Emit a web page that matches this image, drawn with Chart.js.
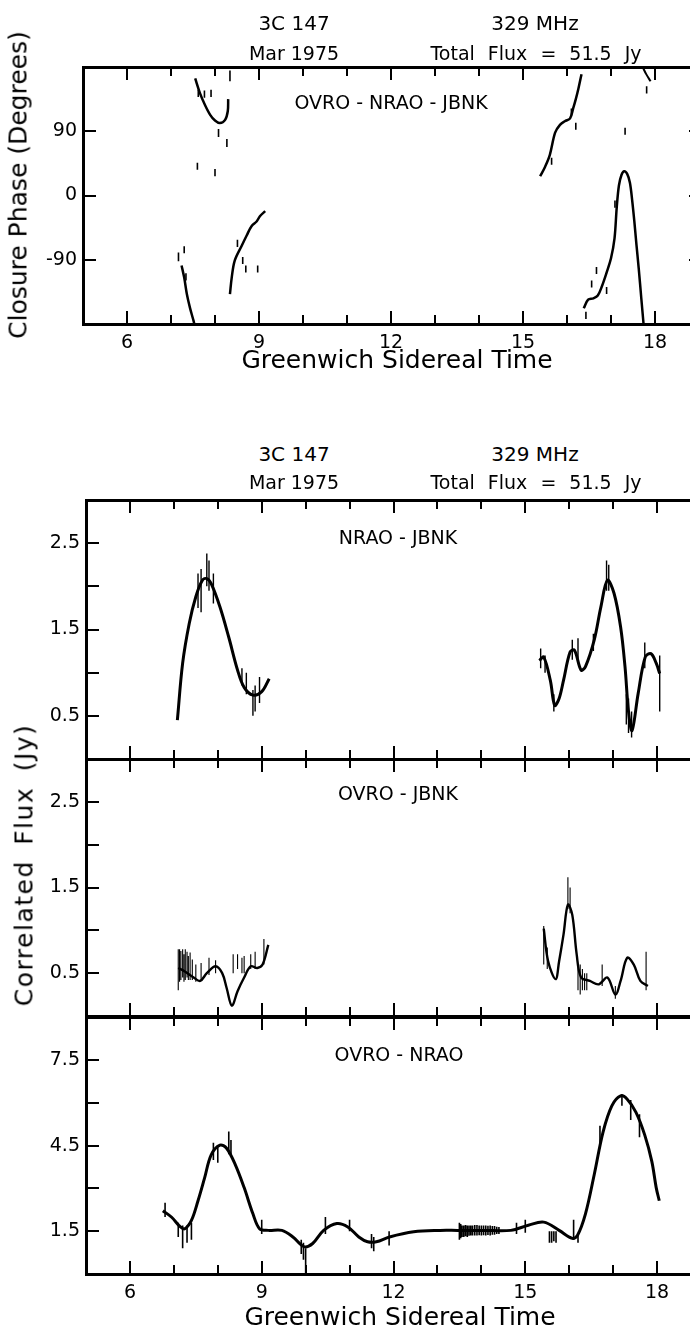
<!DOCTYPE html>
<html>
<head>
<meta charset="utf-8">
<script src="https://cdn.jsdelivr.net/npm/chart.js@4"></script>
<style>
  html, body { margin:0; padding:0; background:#fff; }
  body { width:690px; height:1327px; overflow:hidden; position:relative; font-family:"DejaVu Sans", sans-serif; color:#000; }
  canvas { position:absolute; left:0; }
  .t { position:absolute; white-space:nowrap; line-height:1; transform:translate(-50%,-50%); }
  .r { transform:translate(-50%,-50%) rotate(-90deg); }
</style>
</head>
<body>
<canvas id="c0" style="top:0px" width="720" height="360"></canvas>
<canvas id="c1" style="top:480px" width="720" height="300"></canvas>
<canvas id="c2" style="top:740px" width="720" height="300"></canvas>
<canvas id="c3" style="top:1000px" width="720" height="327"></canvas>

<div class="t" style="left:294px;top:23px;font-size:20px">3C 147</div>
<div class="t" style="left:294px;top:53px;font-size:19px">Mar 1975</div>
<div class="t" style="left:535px;top:23px;font-size:20px">329 MHz</div>
<div class="t" style="left:536px;top:53px;font-size:19px;word-spacing:7px">Total Flux = 51.5 Jy</div>
<div class="t" style="left:391px;top:102px;font-size:19px">OVRO - NRAO - JBNK</div>
<div class="t r" style="left:18px;top:185px;font-size:25px">Closure Phase (Degrees)</div>
<div class="t" style="left:397px;top:359px;font-size:25px">Greenwich Sidereal Time</div>

<div class="t" style="left:294px;top:454px;font-size:20px">3C 147</div>
<div class="t" style="left:294px;top:482px;font-size:19px">Mar 1975</div>
<div class="t" style="left:535px;top:454px;font-size:20px">329 MHz</div>
<div class="t" style="left:536px;top:482px;font-size:19px;word-spacing:7px">Total Flux = 51.5 Jy</div>
<div class="t" style="left:398px;top:537px;font-size:19px">NRAO - JBNK</div>
<div class="t" style="left:398px;top:793px;font-size:19px">OVRO - JBNK</div>
<div class="t" style="left:399px;top:1054px;font-size:19px">OVRO - NRAO</div>
<div class="t r" style="left:24px;top:865px;font-size:25px;word-spacing:6px;letter-spacing:1.5px">Correlated Flux (Jy)</div>
<div class="t" style="left:400px;top:1316px;font-size:25px">Greenwich Sidereal Time</div>

<script>
// ---------- Closure phase (degrees) vs GST ----------
const phaseA_gst = [7.55, 7.66, 7.77, 7.89, 8.0, 8.11, 8.23, 8.29, 8.30];
const phaseA_deg = [164, 143, 127, 113, 105, 101.5, 106, 118, 135];
const phaseB_gst = [7.24, 7.30, 7.36, 7.43, 7.51, 7.53];
const phaseB_deg = [-98, -115, -138, -157, -175, -180];
const phaseC_gst = [8.34, 8.38, 8.45, 8.61, 8.72, 8.83, 8.95, 9.02, 9.14];
const phaseC_deg = [-138, -115, -91, -70, -56, -43, -36, -29, -22];
const phaseD_gst = [15.39, 15.5, 15.61, 15.73, 15.84, 15.95, 16.07, 16.14, 16.2, 16.26, 16.33];
const phaseD_deg = [27, 40, 57, 88, 99, 104, 108, 122, 135, 150, 170];
const phaseE_gst = [16.38, 16.48, 16.6, 16.7, 16.8, 16.9, 17.0, 17.08, 17.13, 17.18, 17.24, 17.3, 17.37, 17.43, 17.48, 17.53, 17.58, 17.63, 17.69, 17.74];
const phaseE_deg = [-158, -146, -144, -140, -126, -108, -88, -60, -17, 14, 29, 34, 30, 18, -6, -36, -70, -102, -145, -180];
const phaseF_gst = [17.72, 17.8, 17.9];
const phaseF_deg = [180, 170, 160];
// isolated phase points: [gst, low, high]
const phaseDots = [[7.62,138,148],[7.76,137,147],[7.91,138,148],[8.34,160,175],[8.08,82,93],[8.27,68,79],
  [7.60,36,46],[8.0,27,37],[7.17,-92,-80],[7.30,-81,-71],[7.34,-119,-109],[8.51,-72,-62],[8.63,-96,-86],
  [8.70,-108,-98],[8.97,-108,-98],[16.2,92,102],[17.32,85,95],[17.81,143,153],[16.43,-173,-163],
  [16.67,-110,-100],[16.56,-129,-119],[16.9,-138,-128],[17.09,-17,-7],[15.65,43,53],[16.1,112,122]];

// ---------- NRAO - JBNK correlated flux (Jy) ----------
const nj1_gst = [7.08, 7.2, 7.35, 7.5, 7.65, 7.75, 7.85, 8.05, 8.25, 8.45, 8.6, 8.8, 9.0, 9.17];
const nj1_flux = [0.45, 1.11, 1.57, 1.88, 2.07, 2.09, 2.03, 1.76, 1.41, 1.03, 0.83, 0.74, 0.78, 0.93];
const nj2_gst = [15.32, 15.42, 15.57, 15.67, 15.77, 15.87, 16.02, 16.12, 16.27, 16.37, 16.57, 16.72, 16.87, 17.02, 17.17, 17.27, 17.35, 17.43, 17.57, 17.73, 17.86, 17.98, 18.06];
const nj2_flux = [1.14, 1.18, 0.91, 0.62, 0.7, 0.91, 1.24, 1.26, 1.03, 1.07, 1.38, 1.76, 2.07, 1.92, 1.53, 1.07, 0.55, 0.33, 0.76, 1.18, 1.22, 1.11, 0.99];
const njNoise = [[7.55,1.75,2.15],[7.62,1.7,2.2],[7.75,2.0,2.38],[7.8,1.95,2.3],[7.9,1.8,2.15],[8.55,0.85,1.05],
  [8.65,0.75,1.0],[8.8,0.5,0.8],[8.85,0.55,0.85],[8.95,0.65,0.95],[15.35,1.05,1.28],[15.45,1.0,1.2],
  [15.65,0.55,0.75],[16.07,1.15,1.38],[16.2,1.15,1.4],[16.55,1.25,1.45],[16.85,1.95,2.3],[16.9,1.95,2.25],
  [17.3,0.4,0.75],[17.35,0.3,0.7],[17.42,0.25,0.55],[17.72,1.05,1.35],[18.06,0.55,1.2]];

// ---------- OVRO - JBNK ----------
const oj1_gst = [7.1, 7.25, 7.45, 7.6, 7.75, 7.95, 8.1, 8.2, 8.32, 8.45, 8.6, 8.75, 8.9, 9.02, 9.15];
const oj1_flux = [0.56, 0.52, 0.45, 0.41, 0.5, 0.58, 0.5, 0.33, 0.12, 0.29, 0.45, 0.58, 0.56, 0.6, 0.83];
const oj2_gst = [15.42, 15.52, 15.69, 15.77, 15.87, 15.97, 16.07, 16.17, 16.27, 16.47, 16.67, 16.87, 17.05, 17.17, 17.32, 17.47, 17.62, 17.79];
const oj2_flux = [1.02, 0.64, 0.43, 0.64, 0.95, 1.3, 1.18, 0.72, 0.45, 0.41, 0.37, 0.45, 0.25, 0.41, 0.68, 0.6, 0.41, 0.35];
const ojNoise = [[7.1,0.3,0.78],[7.13,0.4,0.78],[7.16,0.42,0.76],[7.2,0.45,0.78],[7.23,0.4,0.72],[7.26,0.42,0.78],
  [7.3,0.45,0.75],[7.33,0.42,0.7],[7.37,0.42,0.74],[7.42,0.42,0.66],[7.5,0.4,0.6],[7.62,0.42,0.62],
  [7.8,0.48,0.68],[7.95,0.5,0.65],[8.35,0.5,0.72],[8.45,0.55,0.72],[8.55,0.5,0.68],[8.6,0.5,0.7],
  [8.75,0.55,0.72],[8.85,0.55,0.75],[9.05,0.6,0.9],[15.42,0.6,1.05],[15.5,0.55,0.8],[15.97,1.25,1.62],
  [16.02,1.2,1.5],[16.2,0.3,0.6],[16.25,0.25,0.6],[16.3,0.3,0.55],[16.35,0.3,0.5],[16.4,0.3,0.5],
  [16.75,0.35,0.6],[17.05,0.2,0.35],[17.75,0.3,0.75]];

// ---------- OVRO - NRAO ----------
const on_gst = [6.75, 6.95, 7.15, 7.25, 7.4, 7.55, 7.7, 7.85, 8.05, 8.2, 8.4, 8.6, 8.8, 8.95, 9.15, 9.46, 9.71, 9.96, 10.16, 10.41, 10.71, 10.96, 11.21, 11.41, 11.61, 11.91, 12.46, 13.06, 13.46, 14.07, 14.67, 15.07, 15.42, 15.77, 16.07, 16.19, 16.37, 16.57, 16.77, 16.97, 17.17, 17.32, 17.52, 17.72, 17.88, 17.98, 18.05];
const on_flux = [2.22, 1.99, 1.65, 1.59, 1.88, 2.57, 3.37, 4.18, 4.52, 4.41, 3.83, 3.03, 2.11, 1.59, 1.53, 1.53, 1.3, 0.96, 1.07, 1.53, 1.77, 1.65, 1.3, 1.13, 1.13, 1.3, 1.48, 1.53, 1.53, 1.53, 1.53, 1.71, 1.82, 1.53, 1.25, 1.36, 2.11, 3.49, 4.98, 5.9, 6.25, 6.13, 5.67, 4.87, 3.95, 3.03, 2.57];
const onNoise = [[6.8,2.0,2.5],[7.1,1.3,1.8],[7.2,0.9,1.7],[7.3,1.1,1.7],[7.4,1.2,1.8],[7.9,4.0,4.6],[8.0,3.9,4.5],
  [8.25,4.2,5.0],[8.3,4.1,4.7],[9.0,1.4,1.9],[9.9,0.7,1.2],[9.95,0.5,1.1],[10.0,0.0,0.9],[10.45,1.4,2.0],
  [11.0,1.5,1.9],[11.5,0.9,1.4],[11.55,0.8,1.3],[11.9,1.0,1.5],[13.5,1.2,1.8],[13.53,1.25,1.75],[13.56,1.3,1.7],
  [13.6,1.3,1.7],[13.64,1.32,1.72],[13.68,1.3,1.7],[13.72,1.34,1.7],[13.76,1.35,1.7],[13.8,1.35,1.7],
  [13.85,1.35,1.72],[13.9,1.35,1.72],[13.95,1.36,1.7],[14.0,1.35,1.7],[14.05,1.36,1.7],[14.1,1.35,1.7],
  [14.15,1.37,1.69],[14.2,1.35,1.7],[14.25,1.38,1.68],[14.3,1.38,1.68],[14.35,1.4,1.66],[14.4,1.4,1.65],
  [14.8,1.4,1.8],[15.0,1.45,1.9],[15.55,1.1,1.5],[15.6,1.1,1.5],[15.65,1.15,1.5],[15.7,1.1,1.5],
  [16.1,1.2,1.9],[16.2,1.1,1.4],[16.7,4.5,5.2],[17.2,5.9,6.3],[17.4,5.4,6.1],[17.6,4.8,5.6]];

// ---------- axis settings ----------
const gstMin = 5, gstMax = 19, gstStep = 1, gstLabels = [6, 9, 12, 15, 18];
const phaseTicks = [-90, 0, 90];
const fluxTicksA = [0.5, 1.5, 2.5];
const fluxTicksB = [1.5, 4.5, 7.5];

function pts(xs, ys) { return xs.map((x, i) => ({x: x, y: ys[i]})); }
function bars(list) {
  const out = [];
  list.forEach(b => { out.push({x: b[0], y: b[1]}); out.push({x: b[0], y: b[2]}); out.push({x: b[0], y: null}); });
  return out;
}
function curve(data, w) {
  return {data: data, borderColor: '#000', borderWidth: w || 2.8, pointRadius: 0, tension: 0.35, fill: false, spanGaps: false};
}
function noise(data, w) {
  return {data: data, borderColor: '#000', borderWidth: w || 1.4, pointRadius: 0, tension: 0, fill: false, spanGaps: false};
}

const framePlugin = {
  id: 'frameTicks',
  afterDraw(chart) {
    const ctx = chart.ctx, a = chart.chartArea;
    const x = chart.scales.x, y = chart.scales.y;
    const yStep = chart.options.scales.y.ticks.stepSize;
    ctx.save();
    ctx.setLineDash([]);
    ctx.globalAlpha = 1;
    ctx.fillStyle = '#000';
    const L = Math.round(a.left), R = Math.round(a.right), T = Math.round(a.top), B = Math.round(a.bottom);
    // frame
    ctx.fillRect(L - 1, T - 1, R - L + 3, 3);
    ctx.fillRect(L - 1, B - 1, R - L + 3, 3);
    ctx.fillRect(L - 1, T - 1, 3, B - T + 3);
    ctx.fillRect(R - 1, T - 1, 3, B - T + 3);
    // x ticks, every hour, longer at labelled hours
    for (let v = gstMin + gstStep; v < gstMax - 1e-9; v += gstStep) {
      const px = Math.round(x.getPixelForValue(v));
      const len = gstLabels.includes(v) ? 13 : 9;
      ctx.fillRect(px - 1, T, 2, len);
      ctx.fillRect(px - 1, B - len, 2, len);
    }
    // y ticks
    for (let v = y.min + yStep; v < y.max - 1e-9; v += yStep) {
      const py = Math.round(y.getPixelForValue(v));
      ctx.fillRect(L, py - 1, 13, 2);
      ctx.fillRect(R - 10, py - 1, 10, 2);
    }
    ctx.restore();
  }
};

const tickFont = {family: 'DejaVu Sans', size: 19};

function makeChart(id, datasets, cfg) {
  return new Chart(document.getElementById(id), {
    type: 'line',
    data: {datasets: datasets},
    plugins: [framePlugin],
    options: {
      responsive: false, animation: false, devicePixelRatio: 1,
      layout: {padding: cfg.padding},
      plugins: {legend: {display: false}, tooltip: {enabled: false}, title: {display: false}},
      scales: {
        x: {
          type: 'linear', min: gstMin, max: gstMax, offset: false,
          display: true,
          grid: {display: false, drawTicks: false},
          border: {display: false},
          ticks: {
            display: !!cfg.showX, stepSize: gstStep, autoSkip: false, maxRotation: 0, padding: 8,
            color: '#000', font: tickFont,
            callback: v => gstLabels.includes(v) ? String(v) : ''
          },
          afterFit: s => { s.height = cfg.xHeight; }
        },
        y: {
          type: 'linear', min: cfg.yMin, max: cfg.yMax,
          grid: {display: false, drawTicks: false},
          border: {display: false},
          ticks: {
            stepSize: cfg.yStep, autoSkip: false, padding: 6, color: '#000', font: tickFont,
            callback: v => cfg.yLabels.some(l => Math.abs(l - v) < 1e-6) ? String(v) : ''
          },
          afterFit: s => { s.width = cfg.yWidth; }
        }
      }
    }
  });
}

// Top: closure phase
makeChart('c0', [
  curve(pts(phaseA_gst, phaseA_deg), 2.5),
  curve(pts(phaseB_gst, phaseB_deg), 2.5),
  curve(pts(phaseC_gst, phaseC_deg), 2.5),
  curve(pts(phaseD_gst, phaseD_deg), 2.5),
  curve(pts(phaseE_gst, phaseE_deg), 2.5),
  curve(pts(phaseF_gst, phaseF_deg), 2.0),
  noise(bars(phaseDots), 1.6)
], {padding: {left: 0, right: 21, top: 67, bottom: 0}, showX: true, xHeight: 36,
    yMin: -180, yMax: 180, yStep: 90, yLabels: phaseTicks, yWidth: 83});

// Panel 1: NRAO - JBNK
makeChart('c1', [
  curve(pts(nj1_gst, nj1_flux), 3), curve(pts(nj2_gst, nj2_flux), 3), noise(bars(njNoise))
], {padding: {left: 0, right: 19, top: 20, bottom: 0}, showX: false, xHeight: 21,
    yMin: 0, yMax: 3, yStep: 0.5, yLabels: fluxTicksA, yWidth: 86});

// Panel 2: OVRO - JBNK
makeChart('c2', [
  curve(pts(oj1_gst, oj1_flux), 2.4), curve(pts(oj2_gst, oj2_flux), 2.4), noise(bars(ojNoise), 1.1)
], {padding: {left: 0, right: 19, top: 19, bottom: 0}, showX: false, xHeight: 24,
    yMin: 0, yMax: 3, yStep: 0.5, yLabels: fluxTicksA, yWidth: 86});

// Panel 3: OVRO - NRAO
makeChart('c3', [
  curve(pts(on_gst, on_flux), 3), noise(bars(onNoise), 1.6)
], {padding: {left: 0, right: 19, top: 16, bottom: 0}, showX: true, xHeight: 53,
    yMin: 0, yMax: 9, yStep: 1.5, yLabels: fluxTicksB, yWidth: 86});
</script>
</body>
</html>
